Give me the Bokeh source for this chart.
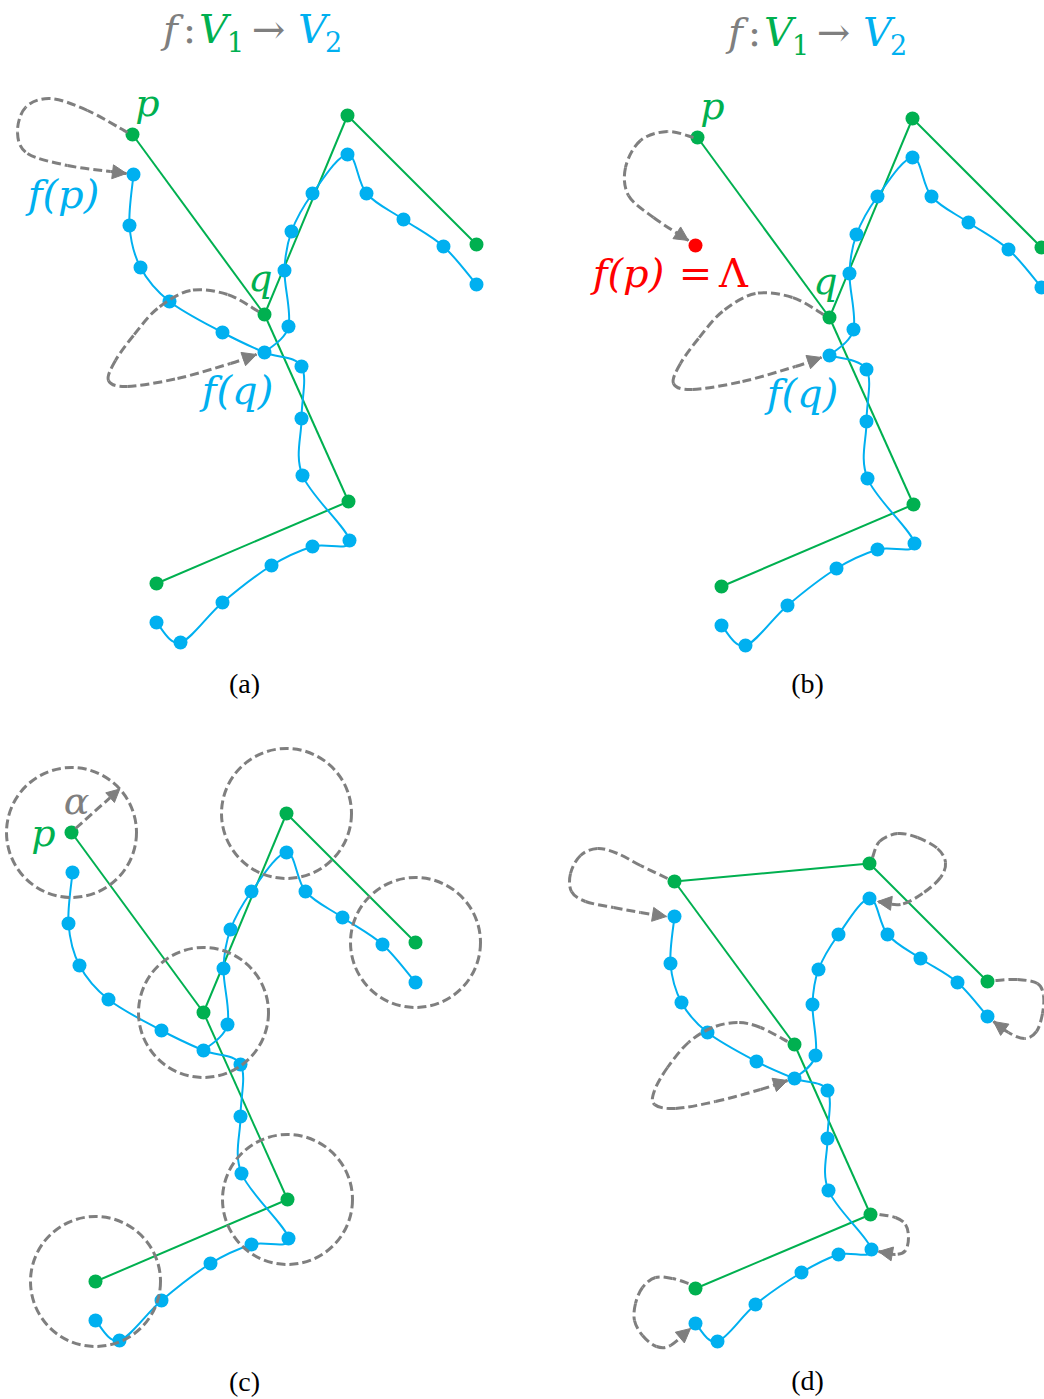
import numpy as np
from bokeh.plotting import figure
from bokeh.models import Range1d, ColumnDataSource, Arrow, NormalHead
from bokeh.embed import file_html
from bokeh.resources import INLINE
from bokeh.core.properties import value

GREEN = "#00B050"
BLUE = "#00B0F0"
GREY = "#7F7F7F"
RED = "#FF0000"
MATH_FONT = "DejaVu Serif"
CAPTION_FONT = "Liberation Serif"

# ---------------- data: graph G1 (V1, green) and G2 (V2, blue), panel (a) frame
V1_X = [132, 264, 347, 476, 348, 156]
V1_Y = [134, 314, 115, 244, 501, 583]
V1_NAMES = ["p", "q", "t", "r", "s", "u"]
V1_EDGES = [(0, 1), (1, 2), (2, 3), (1, 4), (4, 5)]

V2_X = [133, 129, 140, 169, 222, 264, 301, 301, 302, 349, 312, 271, 222, 180, 156,
        288, 284, 291, 312, 347, 366, 403, 443, 476]
V2_Y = [174, 225, 267, 301, 332, 352, 366, 418, 475, 540, 546, 565, 602, 642, 622,
        326, 270, 231, 193, 154, 193, 219, 246, 284]
V2_PATHS = [list(range(0, 15)), [5] + list(range(15, 24))]

# panel (b): f(p) = Lambda, so G2 keeps only the nodes from f(q) on
V2_B_NODES = list(range(5, 24))
V2_B_PATHS = [list(range(5, 15)), [5] + list(range(15, 24))]
LAMBDA_XY = (695, 245)

# panel (c): radius alpha around every V1 node
ALPHA = 65
ALPHA_ANGLE_DEG = 42

# panel (d): a second graph G1 / G2
V1D_X = [674, 794, 869, 987, 870, 695]
V1D_Y = [881, 1044, 863, 981, 1214, 1288]
V1D_EDGES = [(0, 1), (0, 2), (2, 3), (1, 4), (4, 5)]
V2D_X = [674, 670, 681, 707, 756, 794, 827, 827, 828, 871, 838, 801, 755, 717, 695,
         815, 812, 818, 838, 869, 887, 920, 957, 987]
V2D_Y = [916, 963, 1002, 1032, 1061, 1078, 1090, 1138, 1190, 1249, 1254, 1272, 1304, 1341, 1323,
         1055, 1004, 969, 934, 898, 934, 958, 982, 1016]
V2D_PATHS = [list(range(0, 15)), [5] + list(range(15, 24))]

# ---------------- layout (panel offsets) and annotation shapes
OFFSET = {"a": (0, 0), "b": (565, 3), "c": (-61, 698)}

LOOP_P_A = [(127, 132), (87, 110), (50, 98), (25, 107), (17, 132), (27, 153), (67, 165), (110, 171), (126, 173)]
LOOP_Q_A = [(258, 311), (227, 294), (190, 290), (157, 308), (133, 335), (115, 360), (108, 380),
            (127, 386), (177, 378), (230, 363), (256, 354)]
LOOP_P_B = [(693, 137), (667, 131), (640, 140), (625, 167), (628, 195), (653, 217), (688, 240)]
LOOPS_D = [
    [(667, 878), (640, 865), (617, 853), (597, 848), (580, 855), (570, 873), (571, 891), (585, 901), (613, 907), (640, 912), (666, 916)],
    [(872, 857), (879, 841), (897, 833), (917, 837), (937, 848), (945, 862), (940, 877), (922, 893), (900, 904), (877, 901)],
    [(995, 980), (1017, 979), (1037, 983), (1043, 995), (1042, 1013), (1036, 1031), (1024, 1038), (1008, 1032), (993, 1021)],
    [(787, 1041), (760, 1027), (737, 1022), (712, 1027), (688, 1042), (667, 1067), (654, 1090), (654, 1104), (675, 1108), (715, 1101), (760, 1089), (787, 1080)],
    [(879, 1214), (895, 1217), (905, 1224), (908, 1237), (905, 1250), (895, 1254), (878, 1251)],
    [(688, 1283), (672, 1278), (655, 1277), (642, 1287), (635, 1303), (634, 1320), (642, 1335), (656, 1346), (670, 1345), (690, 1328)],
]

W, H = 1044, 1399
p = figure(width=W, height=H, x_range=Range1d(0, W), y_range=Range1d(H, 0),
           output_backend="svg", toolbar_location=None, min_border=0,
           x_axis_type=None, y_axis_type=None)
p.grid.visible = False
p.outline_line_color = None
p.background_fill_color = "white"


def cr_source(xs, ys, dx=0, dy=0):
    P = np.column_stack([xs, ys]).astype(float) + np.array([dx, dy], float)
    ext = np.vstack([P[0], P, P[-1]])
    d = {k: [] for k in ["x0", "y0", "x1", "y1", "cx0", "cy0", "cx1", "cy1"]}
    for i in range(len(P) - 1):
        pm, p0, p1, pn = ext[i], ext[i + 1], ext[i + 2], ext[i + 3]
        c0 = p0 + (p1 - pm) / 6.0
        c1 = p1 - (pn - p0) / 6.0
        d["x0"].append(p0[0]); d["y0"].append(p0[1])
        d["x1"].append(p1[0]); d["y1"].append(p1[1])
        d["cx0"].append(c0[0]); d["cy0"].append(c0[1])
        d["cx1"].append(c1[0]); d["cy1"].append(c1[1])
    return ColumnDataSource(d)


def smooth(xs, ys, color, width, dx=0, dy=0, dash="solid"):
    p.bezier(x0="x0", y0="y0", x1="x1", y1="y1", cx0="cx0", cy0="cy0", cx1="cx1", cy1="cy1",
             source=cr_source(xs, ys, dx, dy), line_color=color, line_width=width, line_dash=dash)


def draw_graphs(v1x, v1y, edges, v2x, v2y, paths, nodes2, dx=0, dy=0):
    p.segment(x0=[v1x[a] + dx for a, b in edges], y0=[v1y[a] + dy for a, b in edges],
              x1=[v1x[b] + dx for a, b in edges], y1=[v1y[b] + dy for a, b in edges],
              line_color=GREEN, line_width=2)
    for path in paths:
        smooth([v2x[i] for i in path], [v2y[i] for i in path], BLUE, 2, dx, dy)
    p.scatter([v2x[i] + dx for i in nodes2], [v2y[i] + dy for i in nodes2], size=14,
              fill_color=BLUE, line_color=None)
    p.scatter([x + dx for x in v1x], [y + dy for y in v1y], size=14,
              fill_color=GREEN, line_color=None)


def loop(points, dx=0, dy=0):
    xs = [x + dx for x, y in points]
    ys = [y + dy for x, y in points]
    smooth(xs, ys, GREY, 3, dash="9 4")
    p.add_layout(Arrow(end=NormalHead(size=14, fill_color=GREY, line_color=GREY, line_width=1),
                       x_start=xs[-2], y_start=ys[-2], x_end=xs[-1], y_end=ys[-1],
                       line_alpha=0))


def txt(s, x, y, color, size=38, style="italic", font=MATH_FONT, align="center"):
    # y is the text's baseline; drawn from its middle for a stable placement
    p.text(x=[x], y=[y - 0.33 * size], text=[s], text_color=color, text_font=value(font),
           text_font_size=value(f"{size}px"), text_font_style=style,
           text_align=align, text_baseline="middle")


def title(dx, dy):
    txt("f", 170 + dx, 42 + dy, GREY, 40)
    txt(":", 189 + dx, 42 + dy, GREY, 40, "normal")
    txt("V", 213 + dx, 42 + dy, GREEN, 40)
    txt("1", 235 + dx, 50 + dy, GREEN, 27, "normal")
    txt("\u2192", 268 + dx, 42 + dy, GREY, 40, "normal")
    txt("V", 312 + dx, 42 + dy, BLUE, 40)
    txt("2", 333 + dx, 50 + dy, BLUE, 27, "normal")


# ---------- panel (a)
dx, dy = OFFSET["a"]
draw_graphs(V1_X, V1_Y, V1_EDGES, V2_X, V2_Y, V2_PATHS, list(range(24)), dx, dy)
loop(LOOP_P_A, dx, dy)
loop(LOOP_Q_A, dx, dy)
title(dx, dy)
txt("p", 147 + dx, 115 + dy, GREEN)
txt("q", 260 + dx, 290 + dy, GREEN)
txt("f(p)", 63 + dx, 207 + dy, BLUE, 40)
txt("f(q)", 237 + dx, 403 + dy, BLUE, 40)

# ---------- panel (b)
dx, dy = OFFSET["b"]
draw_graphs(V1_X, V1_Y, V1_EDGES, V2_X, V2_Y, V2_B_PATHS, V2_B_NODES, dx, dy)
p.scatter([LAMBDA_XY[0]], [LAMBDA_XY[1]], size=14, fill_color=RED, line_color=None)
loop(LOOP_P_B)
loop(LOOP_Q_A, dx, dy)
title(dx, dy)
txt("p", 147 + dx, 115 + dy, GREEN)
txt("q", 260 + dx, 290 + dy, GREEN)
txt("f(q)", 237 + dx, 403 + dy, BLUE, 40)
txt("f(p)", 628, 286, RED, 40)
txt("=", 695, 286, RED, 40, "normal")
txt("\u039b", 733, 286, RED, 40, "normal")

# ---------- panel (c)
dx, dy = OFFSET["c"]
draw_graphs(V1_X, V1_Y, V1_EDGES, V2_X, V2_Y, V2_PATHS, list(range(24)), dx, dy)
p.circle(x=[x + dx for x in V1_X], y=[y + dy for y in V1_Y], radius=ALPHA,
         fill_color=None, line_color=GREY, line_width=3, line_dash="9 4")
ang = np.deg2rad(ALPHA_ANGLE_DEG)
px0, py0 = V1_X[0] + dx, V1_Y[0] + dy
p.add_layout(Arrow(end=NormalHead(size=13, fill_color=GREY, line_color=GREY, line_width=1),
                   x_start=px0 + 4, y_start=py0 - 4,
                   x_end=px0 + ALPHA * np.cos(ang), y_end=py0 - ALPHA * np.sin(ang),
                   line_color=GREY, line_width=3, line_dash="9 4"))
txt("\u03b1", 76, 813, GREY)
txt("p", 43, 845, GREEN)

# ---------- panel (d)
draw_graphs(V1D_X, V1D_Y, V1D_EDGES, V2D_X, V2D_Y, V2D_PATHS, list(range(24)))
for lp in LOOPS_D:
    loop(lp)

# ---------- captions
txt("(a)", 244, 692, "black", 28, "normal", CAPTION_FONT)
txt("(b)", 807, 692, "black", 28, "normal", CAPTION_FONT)
txt("(c)", 244, 1390, "black", 28, "normal", CAPTION_FONT)
txt("(d)", 807, 1389, "black", 28, "normal", CAPTION_FONT)

open("out.html", "w").write(file_html(p, INLINE))
